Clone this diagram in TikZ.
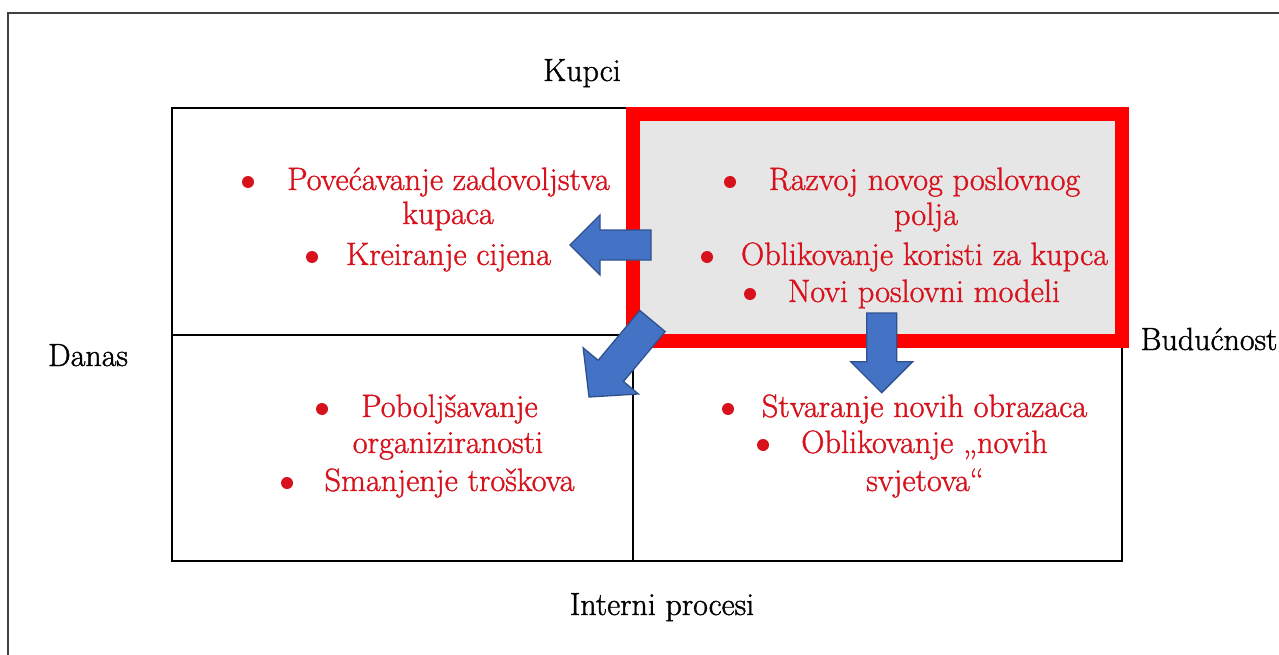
\documentclass[tikz,border=0pt]{standalone}
\usepackage{fontspec}
\setmainfont{Latin Modern Roman}[FakeBold=1.2]
\usetikzlibrary{calc}
\definecolor{txtred}{RGB}{215,18,28}
\definecolor{framered}{RGB}{255,0,0}
\definecolor{boxgray}{RGB}{231,230,230}
\definecolor{arrowblue}{RGB}{68,114,196}
\definecolor{arrowedge}{RGB}{47,82,143}
\definecolor{framegray}{RGB}{64,64,64}
\newcommand\blockarrow[5]{% tail, tip, shaft half width, head half width, head length
  \coordinate (#1-base) at ($(#2)!#5!(#1)$);
  \path[arrowshape] ($(#1)!#3!90:(#2)$) -- ($(#1-base)!#3!90:(#2)$) -- ($(#1-base)!#4!90:(#2)$) -- (#2)
    -- ($(#1-base)!#4!-90:(#2)$) -- ($(#1-base)!#3!-90:(#2)$) -- ($(#1)!#3!-90:(#2)$) -- cycle;
}
\begin{document}
\begin{tikzpicture}[x=1pt,y=-1pt,
  gridline/.style={draw=black,line width=1.4pt},
  redtxt/.style={text=txtred,inner sep=0pt,anchor=base,font=\fontsize{32.3}{37}\selectfont},
  bulletdot/.style={circle,fill=txtred,inner sep=0pt,minimum size=12pt},
  blacktxt/.style={text=black,inner sep=0pt,anchor=base,font=\fontsize{32}{37}\selectfont},
  arrowshape/.style={fill=arrowblue,draw=arrowedge,line width=1.3pt,line join=miter}]
\useasboundingbox (0,0) rectangle (1279,655);
\fill[white] (0,0) rectangle (1279,655);
% outer frame (only top and left edges visible)
\draw[framegray,line width=2pt] (8,655) -- (8,13) -- (1279,13);
% grid
\draw[gridline] (172,108) rectangle (1122,561);
\draw[gridline] (633,108) -- (633,561);
\draw[gridline] (172,335) -- (1122,335);
% highlighted quadrant
\draw[draw=framered,fill=boxgray,line width=14pt] (633,114.5) rectangle (1122,340.5);
% axis labels
\node[blacktxt] (kupci) at (582,81) {Kupci};
\node[blacktxt] (danas) at (88,366) {Danas};
\node[blacktxt] (buducnost) at (1209,350) {Budućnost};
\node[blacktxt] (interni) at (662,615) {Interni procesi};
% top-left quadrant
\node[bulletdot] (b11) at (248,182) {};
\node[redtxt] (t11) at (448.5,190) {Povećavanje zadovoljstva};
\node[redtxt] (t12) at (448,224) {kupaca};
\node[bulletdot] (b12) at (312,257) {};
\node[redtxt] (t13) at (448.5,265) {Kreiranje cijena};
% top-right quadrant
\node[bulletdot] (b21) at (730,182) {};
\node[redtxt] (t21) at (924.5,190) {Razvoj novog poslovnog};
\node[redtxt] (t22) at (926,225) {polja};
\node[bulletdot] (b22) at (707,257) {};
\node[redtxt] (t23) at (924.5,265) {Oblikovanje koristi za kupca};
\node[bulletdot] (b23) at (750,294) {};
\node[redtxt] (t24) at (924,302) {Novi poslovni modeli};
% bottom-left quadrant
\node[bulletdot] (b31) at (322,409) {};
\node[redtxt] (t31) at (449.5,417) {Poboljšavanje};
\node[redtxt] (t32) at (448,453) {organiziranosti};
\node[bulletdot] (b32) at (287,483) {};
\node[redtxt] (t33) at (449.5,491) {Smanjenje troškova};
% bottom-right quadrant
\node[bulletdot] (b41) at (728,409) {};
\node[redtxt] (t41) at (924.5,417) {Stvaranje novih obrazaca};
\node[bulletdot] (b42) at (763,445) {};
\node[redtxt] (t42) at (924.5,453) {Oblikovanje „novih};
\node[redtxt] (t43) at (925,491) {svjetova“};
% block arrows
\coordinate (leftTail) at (651,245);
\coordinate (leftTip) at (570,245);
\coordinate (downTail) at (881.7,313);
\coordinate (downTip) at (881.7,392.7);
\coordinate (diagTail) at (652.5,321);
\coordinate (diagTip) at (589,397);
\blockarrow{leftTail}{leftTip}{15pt}{30pt}{30pt}
\blockarrow{downTail}{downTip}{15pt}{31pt}{31pt}
\blockarrow{diagTail}{diagTip}{16.5pt}{36pt}{34pt}
\end{tikzpicture}
\end{document}
